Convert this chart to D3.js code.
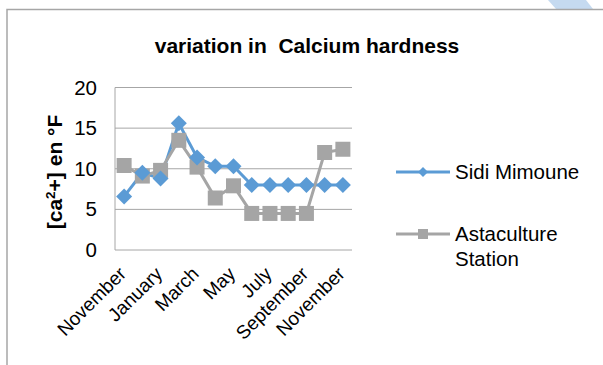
<!DOCTYPE html>
<html><head><meta charset="utf-8">
<script src="https://cdn.jsdelivr.net/npm/d3@7/dist/d3.min.js"></script>
<style>body{margin:0;background:#fff}svg{display:block;font-family:Arial,"Liberation Sans",sans-serif}text{white-space:pre}</style>
</head><body><svg id="c" width="603" height="365"></svg>
<script>
const months = ["November","December","January","February","March","April","May","June","July","August","September","October","November "];
const tickLabels = ["November","January","March","May","July","September","November "];
const sidiMimoune = [6.6, 9.5, 8.8, 15.6, 11.4, 10.3, 10.3, 8, 8, 8, 8, 8, 8];
const astaculture = [10.4, 9.1, 9.8, 13.5, 10.2, 6.4, 7.9, 4.5, 4.5, 4.5, 4.5, 12, 12.4];
const yTicks = [0, 5, 10, 15, 20];
const seriesNames = ["Sidi Mimoune", "Astaculture Station"];

const svg = d3.select("#c");
svg.append("polygon").attr("points","548,0 586,0 593,9 556,9").attr("fill","#c5daf0");
svg.append("path").attr("d","M7,365 V9.5 H603").attr("fill","none").attr("stroke","#a6a6a6").attr("stroke-width",1.5);

const L=115, R=352, T=87.5, B=250;
const x = d3.scaleBand().domain(months).range([L,R]);
const y = d3.scaleLinear().domain([0,20]).range([B,T]);

svg.append("text").attr("x",307).attr("y",53).attr("text-anchor","middle")
  .attr("font-weight","bold").attr("font-size",21).text("variation in  Calcium hardness");

const g = svg.append("g");
g.selectAll("line.grid").data(yTicks).join("line")
  .attr("x1",L).attr("x2",R).attr("y1",d=>y(d)).attr("y2",d=>y(d))
  .attr("stroke","#a6a6a6").attr("stroke-width",1);
g.append("line").attr("x1",L).attr("x2",L).attr("y1",T).attr("y2",B).attr("stroke","#a6a6a6");
g.selectAll("text.yt").data(yTicks).join("text")
  .attr("x",97).attr("y",d=>y(d)+7).attr("text-anchor","end").attr("font-size",20.5).text(d=>d);

svg.append("text").attr("transform","translate(62,172) rotate(-90)").attr("text-anchor","middle")
  .attr("font-weight","bold").attr("font-size",21)
  .html('[ca<tspan dy="-7" font-size="13.5">2</tspan><tspan dy="7">+] en °F</tspan>');

const xc = d => x(d)+x.bandwidth()/2;
tickLabels.forEach(lbl=>{
  svg.append("text").attr("transform",`translate(${xc(lbl)+3},${B+25}) rotate(-45)`)
    .attr("text-anchor","end").attr("font-size",19).text(lbl.trim());
});

const line = d3.line().x((d,i)=>xc(months[i])).y(d=>y(d));
const blue="#5b9bd5", gray="#a5a5a5";
svg.append("path").datum(sidiMimoune).attr("d",line).attr("fill","none").attr("stroke",blue).attr("stroke-width",3);
svg.append("path").datum(astaculture).attr("d",line).attr("fill","none").attr("stroke",gray).attr("stroke-width",3);
svg.selectAll("rect.sq").data(astaculture).join("rect")
  .attr("x",(d,i)=>xc(months[i])-7.5).attr("y",d=>y(d)-7.5).attr("width",15).attr("height",15).attr("fill",gray);
svg.selectAll("path.dm").data(sidiMimoune).join("path")
  .attr("transform",(d,i)=>`translate(${xc(months[i])},${y(d)})`)
  .attr("d","M0,-8 L8,0 L0,8 L-8,0 Z").attr("fill",blue);

const lg = svg.append("g");
lg.append("line").attr("x1",396).attr("x2",450).attr("y1",172).attr("y2",172).attr("stroke",blue).attr("stroke-width",3);
lg.append("path").attr("transform","translate(423,172)").attr("d","M0,-5 L5,0 L0,5 L-5,0 Z").attr("fill",blue);
lg.append("text").attr("x",455).attr("y",179).attr("font-size",20.5).text(seriesNames[0]);
lg.append("line").attr("x1",396).attr("x2",450).attr("y1",234).attr("y2",234).attr("stroke",gray).attr("stroke-width",3);
lg.append("rect").attr("x",418).attr("y",229).attr("width",10).attr("height",10).attr("fill",gray);
lg.append("text").attr("x",455).attr("y",241).attr("font-size",20.5).text("Astaculture");
lg.append("text").attr("x",455).attr("y",266).attr("font-size",20.5).text("Station");
</script></body></html>
